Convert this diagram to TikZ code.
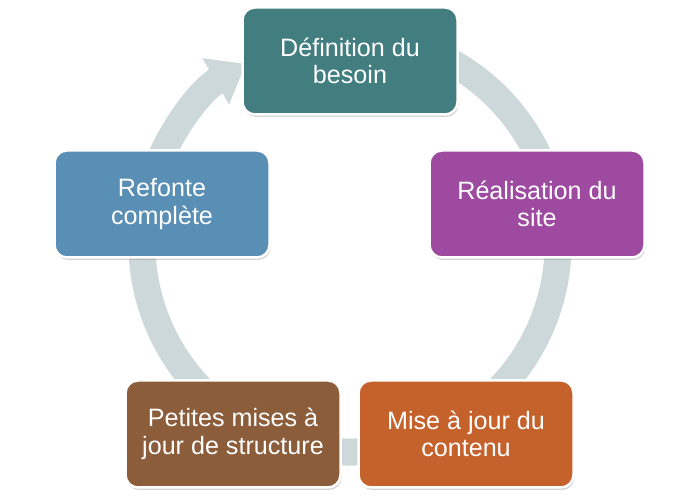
\documentclass[tikz,border=0pt]{standalone}
\usepackage{fontspec}
\setmainfont{Liberation Sans}
\usepackage{xcolor}
\usetikzlibrary{arrows.meta, shadows}
\definecolor{ringgray}{HTML}{CDD8DA}
\definecolor{stepteal}{HTML}{427D80}
\definecolor{steppurple}{HTML}{9E4AA0}
\definecolor{stepblue}{HTML}{5A8FB5}
\definecolor{stepbrown}{HTML}{8B5D3B}
\definecolor{steporange}{HTML}{C5622C}
\tikzset{
  stepbox/.style={draw=white, line width=0.05cm, rounded corners=0.25cm,
    minimum width=4.3cm, minimum height=2.14cm, text=white, align=center,
    font=\fontsize{14.3}{15.6}\selectfont,
    drop shadow={opacity=0.35, shadow xshift=0.02cm, shadow yshift=-0.05cm}},
  ring/.style={ringgray, line width=0.54cm,
    -{Triangle[width=1.02cm, length=0.7cm]}}
}
\begin{document}
\begin{tikzpicture}
\useasboundingbox (0,0) rectangle (14,10);
\draw[ring] (7,5.12) ++(72:4.16) arc[start angle=72, end angle=-240, radius=4.16];
\node[stepbox, fill=stepteal] (besoin) at (7,8.78) {Définition du\\besoin};
\node[stepbox, fill=steppurple] (site) at (10.74,5.92) {Réalisation du\\site};
\node[stepbox, fill=steporange] (contenu) at (9.32,1.32) {Mise à jour du\\contenu};
\node[stepbox, fill=stepbrown] (structure) at (4.66,1.32) {Petites mises à\\jour de structure};
\node[stepbox, fill=stepblue] (refonte) at (3.24,5.92) {Refonte\\complète};
\end{tikzpicture}
\end{document}
